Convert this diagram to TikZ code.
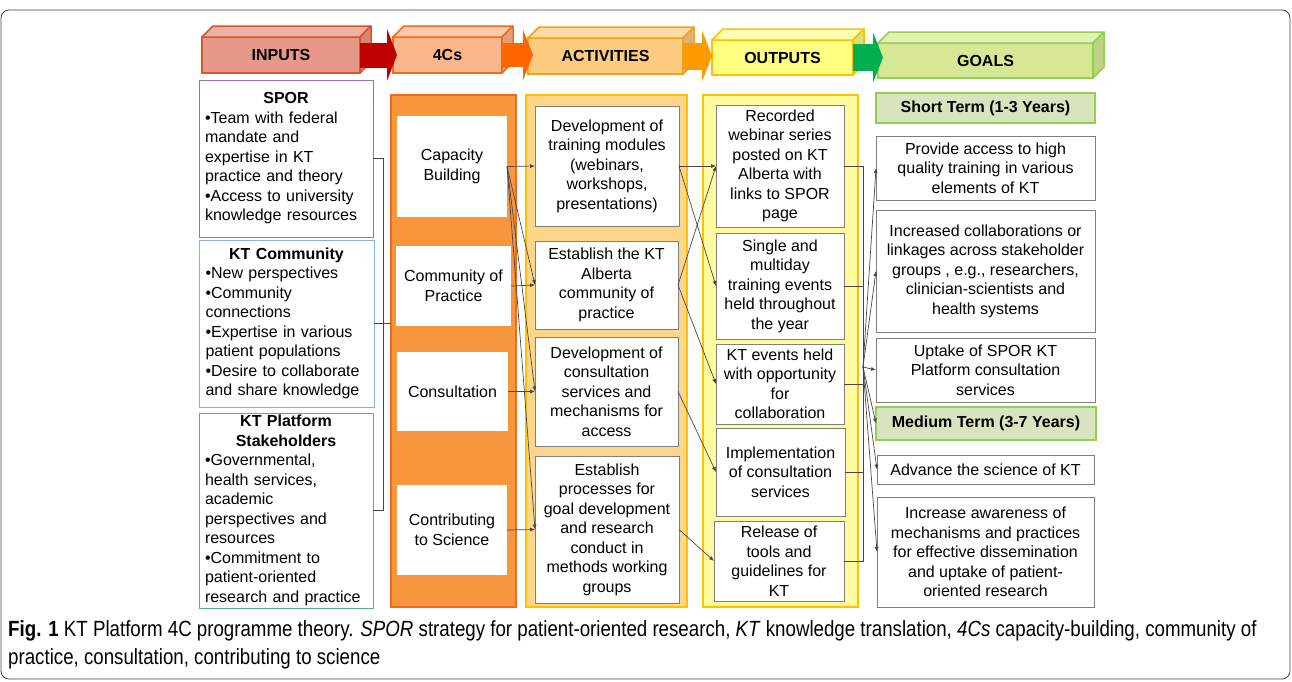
\documentclass[tikz,border=0pt]{standalone}
\usepackage{fontspec}
\setmainfont{Liberation Sans}
\newfontfamily\capfont[FakeStretch=0.85]{Liberation Sans}
\usetikzlibrary{positioning, calc, arrows.meta}

\definecolor{inpfront}{RGB}{230,153,136}
\definecolor{inptop}{RGB}{237,178,163}
\definecolor{inpside}{RGB}{214,135,116}
\definecolor{inpline}{RGB}{214,84,46}
\definecolor{redarrow}{RGB}{192,0,0}
\definecolor{fcfront}{RGB}{250,183,140}
\definecolor{fctop}{RGB}{251,203,172}
\definecolor{fcside}{RGB}{226,160,118}
\definecolor{fcline}{RGB}{242,107,29}
\definecolor{orarrow}{RGB}{255,102,0}
\definecolor{actfront}{RGB}{252,203,128}
\definecolor{acttop}{RGB}{253,220,165}
\definecolor{actside}{RGB}{222,178,112}
\definecolor{actline}{RGB}{247,160,30}
\definecolor{ambarrow}{RGB}{255,153,0}
\definecolor{outfront}{RGB}{255,255,128}
\definecolor{outtop}{RGB}{255,255,175}
\definecolor{outside}{RGB}{225,225,110}
\definecolor{outbord}{RGB}{255,192,0}
\definecolor{grnarrow}{RGB}{0,176,80}
\definecolor{glfront}{RGB}{214,232,150}
\definecolor{gltop}{RGB}{226,240,180}
\definecolor{glside}{RGB}{190,212,130}
\definecolor{glline}{RGB}{146,208,80}
\definecolor{fcfill}{RGB}{247,150,60}
\definecolor{actfill}{RGB}{253,214,140}
\definecolor{outfill}{RGB}{255,250,160}
\definecolor{termfill}{RGB}{215,228,189}
\definecolor{boxline}{RGB}{127,127,127}
\definecolor{linkgray}{RGB}{70,70,70}
\definecolor{sporline}{RGB}{160,110,170}
\definecolor{comline}{RGB}{140,175,225}
\definecolor{stakeline}{RGB}{80,180,140}

% top and side faces of a header block
\newcommand{\hdrfaces}[4]{%
  \filldraw[fill=#2, draw=#4, line width=1.5pt, line join=round]
    (#1.north west) -- ++(11,-11) -- ($(#1.north east)+(11,-11)$) -- (#1.north east) -- cycle;
  \filldraw[fill=#3, draw=#4, line width=1.5pt, line join=round]
    (#1.north east) -- ++(11,-11) -- ($(#1.south east)+(11,-11)$) -- (#1.south east) -- cycle;}

\begin{document}
\begin{tikzpicture}[x=1pt, y=-1pt, font=\fontsize{16}{19.5}\selectfont]
\tikzstyle{hdr}=[rectangle, line width=1.5pt, inner sep=0, outer sep=0, font=\fontsize{16}{19.5}\selectfont\bfseries]
\tikzstyle{column}=[rectangle, line width=2pt, inner sep=0, outer sep=0]
\tikzstyle{inner}=[rectangle, draw=boxline, fill=white, line width=1pt, inner sep=2pt, outer sep=0, align=center]
\tikzstyle{input}=[rectangle, fill=white, line width=1pt, inner xsep=6pt, inner ysep=2pt, outer sep=0, text width=162pt, align=left]
\tikzstyle{term}=[rectangle, draw=glline, fill=termfill, line width=2pt, inner sep=0, outer sep=0, font=\fontsize{16}{19.5}\selectfont\bfseries]
\tikzstyle{connect}=[-{Latex[length=5pt,width=4pt]}, line width=0.7pt, draw=linkgray]
\tikzstyle{plain}=[line width=0.7pt, draw=linkgray]
\useasboundingbox (0,0) rectangle (1292,681);
\draw[line width=0.8pt, black!75, rounded corners=8pt] (1,10) rectangle (1290,679);

% header blocks
\node[hdr, fill=inpfront, draw=inpline, minimum width=158, minimum height=36] (hin) at (281,55) {INPUTS};
\hdrfaces{hin}{inptop}{inpside}{inpline}
\node[hdr, fill=fcfront, draw=fcline, minimum width=109, minimum height=36] (h4c) at (447.5,55) {4Cs};
\hdrfaces{h4c}{fctop}{fcside}{fcline}
\node[hdr, fill=actfront, draw=actline, minimum width=155, minimum height=36] (hact) at (605.5,56) {ACTIVITIES};
\hdrfaces{hact}{acttop}{actside}{actline}
\node[hdr, fill=outfront, draw=outbord, minimum width=141, minimum height=35] (hout) at (782.5,57.5) {OUTPUTS};
\hdrfaces{hout}{outtop}{outside}{outbord}
\node[hdr, fill=glfront, draw=glline, minimum width=215, minimum height=35] (hgoal) at (985.5,60.5) {GOALS};
\hdrfaces{hgoal}{gltop}{glside}{glline}

\draw[line width=25pt, redarrow, -{Triangle[width=52pt,length=10pt]}] (hin.east) -- ($(hin.east -| h4c.west)+(4,0)$);
\draw[line width=24pt, orarrow, -{Triangle[width=50pt,length=10pt]}] (h4c.east) -- ($(h4c.east -| hact.west)+(5,0)$);
\draw[line width=27pt, ambarrow, -{Triangle[width=51pt,length=10pt]}] (hact.east) -- (hact.east -| hout.west);
\draw[line width=27pt, grnarrow, -{Triangle[width=50pt,length=10pt]}] (hout.east) -- ($(hout.east -| hgoal.west)+(5,0)$);

% inputs
\node[input, draw=sporline, minimum width=174, minimum height=157] (spor) at (286,158.5)
  {\makebox[\linewidth]{\bfseries SPOR}\\\textbullet Team with federal\\mandate and\\expertise in KT\\practice and theory\\\textbullet Access to university\\knowledge resources};
\node[input, draw=comline, minimum width=175, minimum height=167] (ktcom) at (286.5,323.5)
  {\makebox[\linewidth]{\bfseries KT Community}\\\textbullet New perspectives\\\textbullet Community\\connections\\\textbullet Expertise in various\\patient populations\\\textbullet Desire to collaborate\\and share knowledge};
\node[input, draw=stakeline, minimum width=174, minimum height=195] (stake) at (286,510.5)
  {\makebox[\linewidth]{\bfseries KT Platform}\\\makebox[\linewidth]{\bfseries Stakeholders}\\\textbullet Governmental,\\health services,\\academic\\perspectives and\\resources\\\textbullet Commitment to\\patient-oriented\\research and practice};

% 4Cs
\node[column, fill=fcfill, draw=fcline, minimum width=125, minimum height=512] (fourc) at (453.5,351) {};
\node[inner, draw=none, minimum width=110, minimum height=101] (cb) at (452,166.5) {Capacity\\Building};
\node[inner, draw=none, minimum width=115, minimum height=80] (cop) at (453.5,286) {Community of\\Practice};
\node[inner, draw=none, minimum width=111, minimum height=79] (cons) at (452.5,391.5) {Consultation};
\node[inner, draw=none, minimum width=110, minimum height=90] (cts) at (452,530) {Contributing\\to Science};

% activities
\node[column, fill=actfill, draw=outbord, minimum width=161, minimum height=512] (actc) at (606.5,351) {};
\node[inner, minimum width=144, minimum height=120] (a1) at (607,166) {Development of\\training modules\\(webinars,\\workshops,\\presentations)};
\node[inner, minimum width=143, minimum height=88] (a2) at (606.5,285) {Establish the KT\\Alberta\\community of\\practice};
\node[inner, minimum width=143, minimum height=109] (a3) at (606.5,391.5) {Development of\\consultation\\services and\\mechanisms for\\access};
\node[inner, minimum width=144, minimum height=147] (a4) at (607,529.5) {Establish\\processes for\\goal development\\and research\\conduct in\\methods working\\groups};

% outputs
\node[column, fill=outfill, draw=outbord, minimum width=155, minimum height=512] (outc) at (780.5,351) {};
\node[inner, minimum width=128, minimum height=122] (o1) at (780,166) {Recorded\\webinar series\\posted on KT\\Alberta with\\links to SPOR\\page};
\node[inner, minimum width=128, minimum height=106] (o2) at (780,286) {Single and\\multiday\\training events\\held throughout\\the year};
\node[inner, minimum width=128, minimum height=80] (o3) at (780,384) {KT events held\\with opportunity\\for\\collaboration};
\node[inner, minimum width=129, minimum height=88] (o4) at (780.5,472) {Implementation\\of consultation\\services};
\node[inner, minimum width=130, minimum height=80] (o5) at (779,561) {Release of\\tools and\\guidelines for\\KT};

% goals
\node[term, minimum width=219, minimum height=30] (st) at (985.5,108) {Short Term (1-3 Years)};
\node[inner, minimum width=219, minimum height=64] (g1) at (985.5,168) {Provide access to high\\quality training in various\\elements of KT};
\node[inner, minimum width=219, minimum height=122] (g2) at (985.5,271) {Increased collaborations or\\linkages across stakeholder\\groups , e.g., researchers,\\clinician-scientists and\\health systems};
\node[inner, minimum width=219, minimum height=64] (g3) at (985.5,370) {Uptake of SPOR KT\\Platform consultation\\services};
\node[term, minimum width=220, minimum height=33] (mt) at (986,423.5) {Medium Term (3-7 Years)};
\node[inner, minimum width=217, minimum height=29] (g4) at (985.5,469.5) {Advance the science of KT};
\node[inner, minimum width=217, minimum height=110] (g5) at (985.5,552) {Increase awareness of\\mechanisms and practices\\for effective dissemination\\and uptake of patient-\\oriented research};

% links
\draw[plain] (spor.east) -- ++(10,0) |- (stake.east);
\draw[plain] (ktcom.east) -- (ktcom.east -| fourc.west);

\path (cb.east) edge [connect] (a1.west)
      (cb.east) edge [connect] (a2.west)
      (cb.east) edge [connect] (a3.west)
      (cb.east) edge [connect] (a4.west)
      (cop.east) edge [connect] (a2.west)
      (cons.east) edge [connect] (a3.west)
      (cts.east) edge [connect] (a4.west);

\path (a1.east) edge [connect] (o1.west)
      (a1.east) edge [connect] (o2.west)
      (a2.east) edge [connect] (o1.west)
      (a2.east) edge [connect] (o3.west)
      (a3.east) edge [connect] (o4.west)
      (a4.east) edge [connect] (o5.west);

\coordinate (hub) at (863,367);
\draw[plain] (o1.east) -- (o1.east -| hub) -- (o5.east -| hub) -- (o5.east);
\draw[plain] (o2.east) -- (o2.east -| hub);
\draw[plain] (o3.east) -- (o3.east -| hub);
\draw[plain] (o4.east) -- (o4.east -| hub);
\path (hub) edge [connect] (g1.west)
      (hub) edge [connect] (g2.west)
      (hub) edge [connect] (g3.west)
      (hub) edge [connect] (mt.west)
      (hub) edge [connect] (g4.west)
      (hub) edge [connect] (g5.west);

% caption
\node[anchor=north west, inner sep=0, align=left, font=\capfont\fontsize{22}{28}\selectfont] (cap) at (8,620)
  {\textbf{Fig. 1} KT Platform 4C programme theory. \textit{SPOR} strategy for patient-oriented research, \textit{KT} knowledge translation, \textit{4Cs} capacity-building, community of\\practice, consultation, contributing to science};
\end{tikzpicture}
\end{document}
